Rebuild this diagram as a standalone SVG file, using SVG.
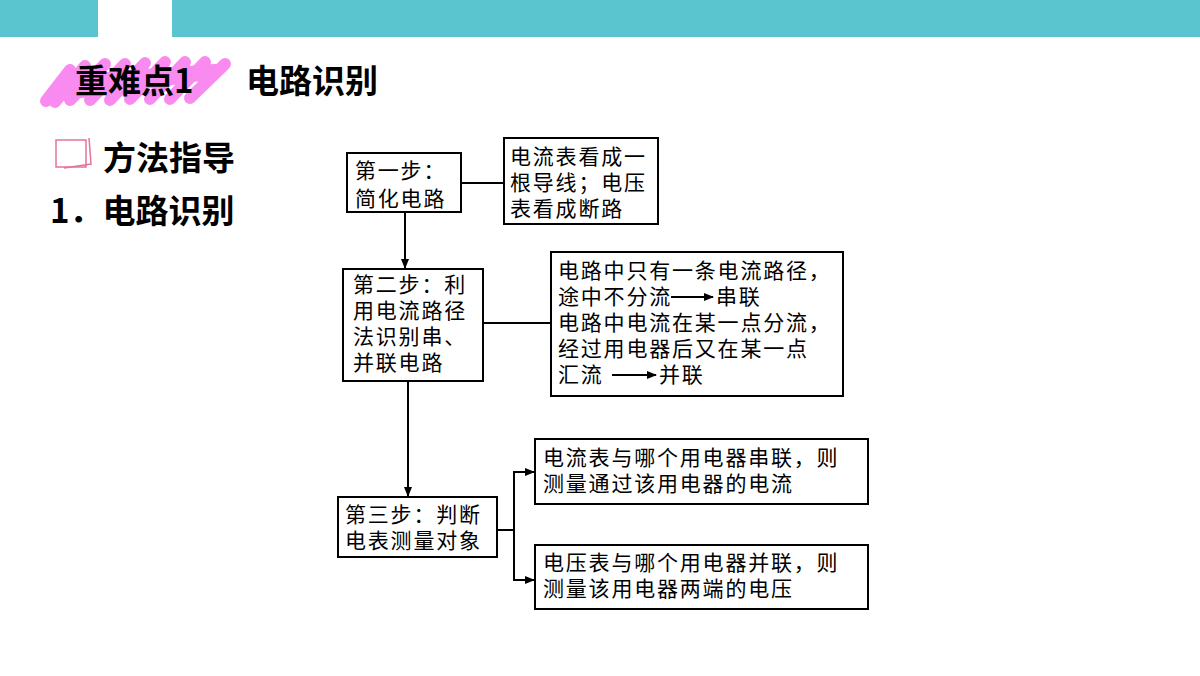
<svg xmlns="http://www.w3.org/2000/svg" width="1200" height="676" viewBox="0 0 1200 676">
<style>
.b{fill:#fff;stroke:#000;stroke-width:2}
.t{font-family:"Noto Sans CJK SC",sans-serif;font-size:21px;letter-spacing:1.8px;fill:#000}
.h{font-family:"Noto Sans CJK SC",sans-serif;font-size:33px;font-weight:bold;fill:#000}
.c{stroke:#000;stroke-width:2;fill:none}
.p{stroke:#F98AEF;stroke-width:12;stroke-linecap:round;fill:none}
</style>
<defs>
<marker id="a" viewBox="0 0 10 10" refX="9" refY="5" markerWidth="5" markerHeight="5" orient="auto"><path d="M0,1 L10,5 L0,9 z" fill="#000"/></marker>
</defs>
<rect x="0" y="0" width="98" height="37" fill="#5BC5CF"/>
<rect x="172" y="0" width="1028" height="37" fill="#5BC5CF"/>
<g id="header">
<path class="p" d="M46,101 L70,70 M55,102 L85,66 M70,100 L105,64 M90,100 L125,64 M110,100 L145,63 M130,99 L165,62 M150,99 L185,62 M170,99 L205,62 M190,98 L225,64 M60,95 L200,75 M70,80 L215,70"/>
<text class="h" x="75" y="93">重难点1</text>
<text class="h" x="246" y="93">电路识别</text>
<rect x="56" y="140" width="30" height="27" fill="#fff" stroke="#E5739A" stroke-width="1.5"/>
<path d="M64,168 L91,164 L89,138" fill="none" stroke="#E5739A" stroke-width="1.5"/>
<text class="h" x="103" y="170">方法指导</text>
<text class="h" x="50" y="223">1．电路识别</text>
</g>
<g id="connectors">
<line class="c" x1="461" y1="183" x2="504" y2="183"/>
<line class="c" x1="405" y1="212" x2="405" y2="268" marker-end="url(#a)"/>
<line class="c" x1="483" y1="323" x2="551" y2="323"/>
<line class="c" x1="408" y1="381" x2="408" y2="496" marker-end="url(#a)"/>
<polyline class="c" points="497,530 514,530"/>
<polyline class="c" points="534,472 514,472 514,580 534,580" marker-end="url(#a)"/>
<line class="c" x1="514" y1="472" x2="534" y2="472" marker-end="url(#a)"/>
</g>
<g id="step1"><rect class="b" x="347" y="153" width="114" height="59"/>
<text class="t" x="355" y="178">第一步：</text><text class="t" x="355" y="206">简化电路</text></g>
<g id="note1"><rect class="b" x="504" y="138" width="154" height="86"/>
<text class="t" x="510" y="164">电流表看成一</text><text class="t" x="510" y="190">根导线；电压</text><text class="t" x="510" y="216">表看成断路</text></g>
<g id="step2"><rect class="b" x="343" y="269" width="140" height="112"/>
<text class="t" x="353" y="292">第二步：利</text><text class="t" x="353" y="318">用电流路径</text><text class="t" x="353" y="344">法识别串、</text><text class="t" x="353" y="370">并联电路</text></g>
<g id="note2"><rect class="b" x="551" y="252" width="292" height="144"/>
<text class="t" x="558" y="278">电路中只有一条电流路径，</text>
<text class="t" x="558" y="304">途中不分流</text><text class="t" x="716" y="304">串联</text>
<text class="t" x="558" y="330">电路中电流在某一点分流，</text>
<text class="t" x="558" y="356">经过用电器后又在某一点</text>
<text class="t" x="558" y="382">汇流</text><text class="t" x="659" y="382">并联</text>
<line class="c" x1="671" y1="297" x2="713" y2="297" marker-end="url(#a)"/>
<line class="c" x1="612" y1="375" x2="656" y2="375" marker-end="url(#a)"/></g>
<g id="step3"><rect class="b" x="338" y="497" width="159" height="60"/>
<text class="t" x="345" y="522">第三步：判断</text><text class="t" x="345" y="548">电表测量对象</text></g>
<g id="note3"><rect class="b" x="535" y="439" width="333" height="65"/>
<text class="t" x="543" y="465">电流表与哪个用电器串联，则</text><text class="t" x="543" y="491">测量通过该用电器的电流</text></g>
<g id="note4"><rect class="b" x="535" y="545" width="333" height="64"/>
<text class="t" x="543" y="570">电压表与哪个用电器并联，则</text><text class="t" x="543" y="596">测量该用电器两端的电压</text></g>
</svg>
